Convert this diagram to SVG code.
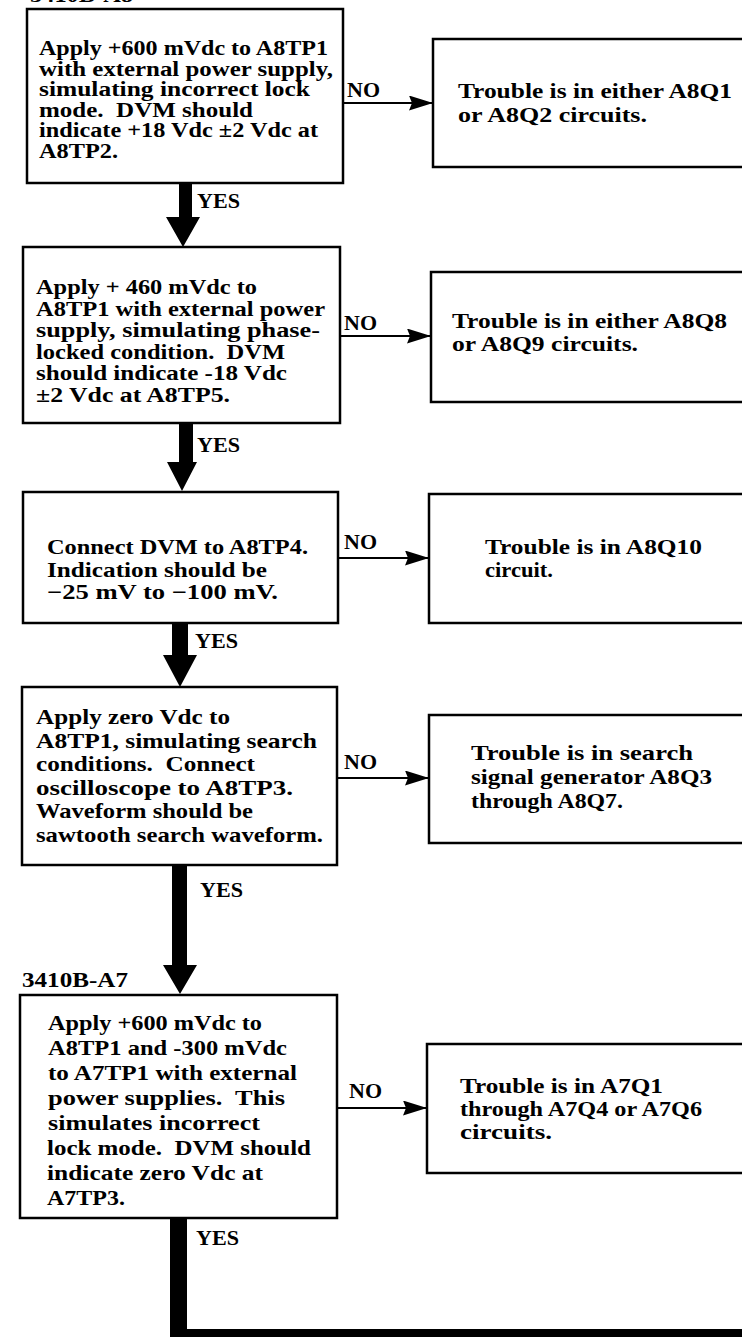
<svg xmlns="http://www.w3.org/2000/svg" width="742" height="1339" viewBox="0 0 742 1339">
<defs>
<style>
.box{fill:#fff;stroke:#000;stroke-width:2.5}
.t{font-family:"Liberation Serif",serif;font-weight:bold;font-size:21px;fill:#000;white-space:pre}
.s{font-size:20px}
.r{font-family:"Liberation Serif",serif;font-weight:bold;font-size:22px;fill:#000}
.lbl{font-family:"Liberation Serif",serif;font-weight:bold;font-size:20px;fill:#000}
.no{stroke:#000;stroke-width:2;fill:none;marker-end:url(#ah)}
.yes{fill:#000;stroke:none}
</style>
<marker id="ah" markerWidth="24" markerHeight="15" refX="24" refY="7.5" orient="auto" markerUnits="userSpaceOnUse">
<path d="M0,0 L24,7.5 L0,15 L3,7.5 Z" fill="#000"/>
</marker>
</defs>
<rect width="742" height="1339" fill="#fff"/>

<text class="lbl" x="30" y="2" textLength="103" lengthAdjust="spacingAndGlyphs">3410B-A8</text>

<g id="connectors">
<path class="yes" d="M179,183 H192 V217 H200 L183,247 L166,217 H179 Z"/>
<path class="yes" d="M179,423 H193 V462 H197 L182,491 L167,462 H179 Z"/>
<path class="yes" d="M172,623 H188 V655 H197 L180,687 L163,655 H172 Z"/>
<path class="yes" d="M172,865 H187 V965 H197 L180,994 L163,965 H172 Z"/>
<path class="yes" d="M170,1218 H187 V1329 H742 V1337 H170 Z"/>
<line class="no" x1="343" y1="103" x2="433" y2="103"/>
<line class="no" x1="340" y1="336" x2="431" y2="336"/>
<line class="no" x1="338" y1="558" x2="429" y2="558"/>
<line class="no" x1="337" y1="778" x2="429" y2="778"/>
<line class="no" x1="337" y1="1108" x2="427" y2="1108"/>
<text class="lbl" x="347" y="97" textLength="33" lengthAdjust="spacingAndGlyphs">NO</text>
<text class="lbl" x="344" y="330" textLength="33" lengthAdjust="spacingAndGlyphs">NO</text>
<text class="lbl" x="344" y="549" textLength="33" lengthAdjust="spacingAndGlyphs">NO</text>
<text class="lbl" x="344" y="769" textLength="33" lengthAdjust="spacingAndGlyphs">NO</text>
<text class="lbl" x="349" y="1098" textLength="33" lengthAdjust="spacingAndGlyphs">NO</text>
<text class="lbl" x="197" y="208" textLength="43" lengthAdjust="spacingAndGlyphs">YES</text>
<text class="lbl" x="197" y="452" textLength="43" lengthAdjust="spacingAndGlyphs">YES</text>
<text class="lbl" x="195" y="648" textLength="43" lengthAdjust="spacingAndGlyphs">YES</text>
<text class="lbl" x="200" y="897" textLength="43" lengthAdjust="spacingAndGlyphs">YES</text>
<text class="lbl" x="196" y="1245" textLength="43" lengthAdjust="spacingAndGlyphs">YES</text>
</g>

<g id="step1">
<rect class="box" x="27" y="9" width="316" height="174"/>
<text class="t s" x="39" y="55" textLength="289" lengthAdjust="spacingAndGlyphs">Apply +600 mVdc to A8TP1</text>
<text class="t s" x="39" y="75.5" textLength="294" lengthAdjust="spacingAndGlyphs">with external power supply,</text>
<text class="t s" x="39" y="96" textLength="271" lengthAdjust="spacingAndGlyphs">simulating incorrect lock</text>
<text class="t s" x="39" y="116.5" textLength="214" lengthAdjust="spacingAndGlyphs">mode.  DVM should</text>
<text class="t s" x="39" y="137" textLength="279" lengthAdjust="spacingAndGlyphs">indicate +18 Vdc ±2 Vdc at</text>
<text class="t s" x="39" y="157.5" textLength="79" lengthAdjust="spacingAndGlyphs">A8TP2.</text>
</g>

<g id="fault1">
<rect class="box" x="433" y="39" width="330" height="128"/>
<text class="r" x="458" y="98" textLength="274" lengthAdjust="spacingAndGlyphs">Trouble is in either A8Q1</text>
<text class="r" x="458" y="122" textLength="189" lengthAdjust="spacingAndGlyphs">or A8Q2 circuits.</text>
</g>

<g id="step2">
<rect class="box" x="23" y="247" width="317" height="176"/>
<text class="t s" x="36" y="294" textLength="221" lengthAdjust="spacingAndGlyphs">Apply + 460 mVdc to</text>
<text class="t s" x="36" y="315.5" textLength="289" lengthAdjust="spacingAndGlyphs">A8TP1 with external power</text>
<text class="t s" x="36" y="337" textLength="284" lengthAdjust="spacingAndGlyphs">supply, simulating phase-</text>
<text class="t s" x="36" y="358.5" textLength="249" lengthAdjust="spacingAndGlyphs">locked condition.  DVM</text>
<text class="t s" x="36" y="380" textLength="251" lengthAdjust="spacingAndGlyphs">should indicate -18 Vdc</text>
<text class="t s" x="36" y="401.5" textLength="194" lengthAdjust="spacingAndGlyphs">±2 Vdc at A8TP5.</text>
</g>

<g id="fault2">
<rect class="box" x="431" y="272" width="330" height="130"/>
<text class="r" x="452" y="328" textLength="275" lengthAdjust="spacingAndGlyphs">Trouble is in either A8Q8</text>
<text class="r" x="452" y="351" textLength="186" lengthAdjust="spacingAndGlyphs">or A8Q9 circuits.</text>
</g>

<g id="step3">
<rect class="box" x="23" y="492" width="315" height="131"/>
<text class="t" x="47" y="554" textLength="261" lengthAdjust="spacingAndGlyphs">Connect DVM to A8TP4.</text>
<text class="t" x="47" y="577" textLength="220" lengthAdjust="spacingAndGlyphs">Indication should be</text>
<text class="t" x="47" y="599" textLength="231" lengthAdjust="spacingAndGlyphs">−25 mV to −100 mV.</text>
</g>

<g id="fault3">
<rect class="box" x="429" y="494" width="330" height="129"/>
<text class="r" x="485" y="554" textLength="217" lengthAdjust="spacingAndGlyphs">Trouble is in A8Q10</text>
<text class="r" x="485" y="577" textLength="68" lengthAdjust="spacingAndGlyphs">circuit.</text>
</g>

<g id="step4">
<rect class="box" x="22" y="687" width="315" height="178"/>
<text class="t" x="36" y="724" textLength="194" lengthAdjust="spacingAndGlyphs">Apply zero Vdc to</text>
<text class="t" x="36" y="747.5" textLength="281" lengthAdjust="spacingAndGlyphs">A8TP1, simulating search</text>
<text class="t" x="36" y="771" textLength="219" lengthAdjust="spacingAndGlyphs">conditions.  Connect</text>
<text class="t" x="36" y="794.5" textLength="257" lengthAdjust="spacingAndGlyphs">oscilloscope to A8TP3.</text>
<text class="t" x="36" y="818" textLength="217" lengthAdjust="spacingAndGlyphs">Waveform should be</text>
<text class="t" x="36" y="842" textLength="287" lengthAdjust="spacingAndGlyphs">sawtooth search waveform.</text>
</g>

<g id="fault4">
<rect class="box" x="429" y="715" width="330" height="128"/>
<text class="r" x="471" y="760" textLength="222" lengthAdjust="spacingAndGlyphs">Trouble is in search</text>
<text class="r" x="471" y="784" textLength="241" lengthAdjust="spacingAndGlyphs">signal generator A8Q3</text>
<text class="r" x="471" y="808" textLength="152" lengthAdjust="spacingAndGlyphs">through A8Q7.</text>
</g>

<g id="step5">
<text class="lbl" x="22" y="987" textLength="106" lengthAdjust="spacingAndGlyphs">3410B-A7</text>
<rect class="box" x="20" y="995" width="317" height="223"/>
<text class="t" x="48" y="1030" textLength="214" lengthAdjust="spacingAndGlyphs">Apply +600 mVdc to</text>
<text class="t" x="48" y="1055" textLength="239" lengthAdjust="spacingAndGlyphs">A8TP1 and -300 mVdc</text>
<text class="t" x="48" y="1080" textLength="249" lengthAdjust="spacingAndGlyphs">to A7TP1 with external</text>
<text class="t" x="48" y="1105" textLength="237" lengthAdjust="spacingAndGlyphs">power supplies.  This</text>
<text class="t" x="48" y="1130" textLength="212" lengthAdjust="spacingAndGlyphs">simulates incorrect</text>
<text class="t" x="47" y="1155" textLength="264" lengthAdjust="spacingAndGlyphs">lock mode.  DVM should</text>
<text class="t" x="47" y="1180" textLength="216" lengthAdjust="spacingAndGlyphs">indicate zero Vdc at</text>
<text class="t" x="47" y="1205" textLength="78" lengthAdjust="spacingAndGlyphs">A7TP3.</text>
</g>

<g id="fault5">
<rect class="box" x="427" y="1044" width="330" height="129"/>
<text class="r" x="460" y="1093" textLength="203" lengthAdjust="spacingAndGlyphs">Trouble is in A7Q1</text>
<text class="r" x="460" y="1116" textLength="242" lengthAdjust="spacingAndGlyphs">through A7Q4 or A7Q6</text>
<text class="r" x="460" y="1139" textLength="92" lengthAdjust="spacingAndGlyphs">circuits.</text>
</g>
</svg>
